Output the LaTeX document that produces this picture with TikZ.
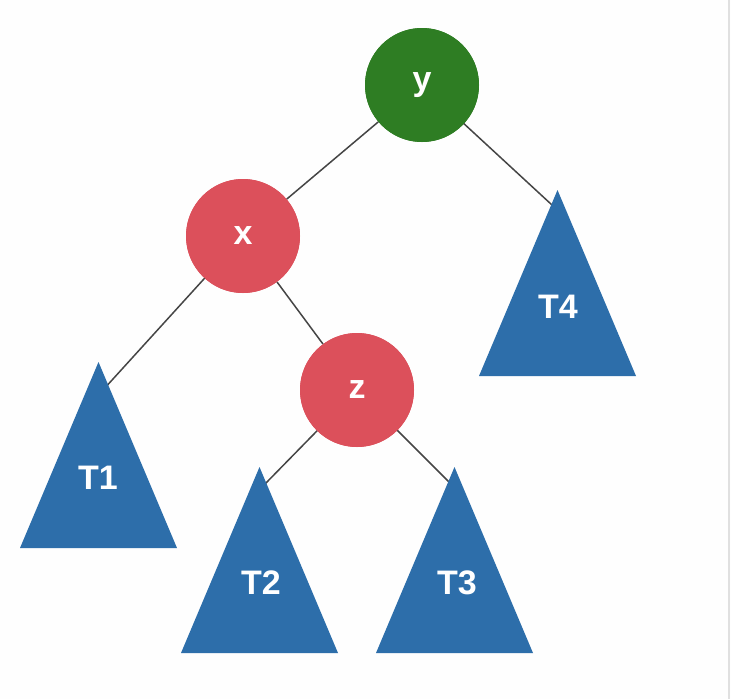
\documentclass[tikz,border=0pt]{standalone}
\usepackage{fontspec}
\setmainfont{Liberation Sans}
\usepackage{tikz}
\definecolor{NodeGreen}{HTML}{2E7D23}
\definecolor{NodeRed}{HTML}{DC505B}
\definecolor{TreeBlue}{HTML}{2D6EAA}
\definecolor{EdgeGray}{HTML}{454545}
\newcommand{\subtree}[3]{\fill[TreeBlue] (#2,#3) -- ++(-78.5,186) -- ++(157,0) -- cycle;}

\begin{document}
\begin{tikzpicture}[
    x=1pt, y=-1pt,
    key/.style={circle, minimum size=114pt, inner sep=0pt, text=white, font=\fontsize{34}{40}\selectfont\bfseries},
    root/.style={key, fill=NodeGreen},
    inner/.style={key, fill=NodeRed},
    treelabel/.style={text=white, inner sep=0pt, font=\fontsize{34}{40}\selectfont\bfseries},
    edge/.style={draw=EdgeGray, line width=1.5pt}
]
% frame of the screenshot
\fill[white!99.5!black] (0,0) rectangle (731,699);
\useasboundingbox (0,0) rectangle (731,699);
\draw[black!12, line width=2pt] (729,0) -- (729,699);

% where the connectors meet the subtrees
\coordinate (t1top) at (103,390);
\coordinate (t2top) at (265,484);
\coordinate (t3top) at (450,483);
\coordinate (t4top) at (552,205);

\node[root] (y) at (422,85) {y};
\node[inner] (x) at (243,236) {x};
\node[inner] (z) at (357,390) {z};

\draw[edge] (y) -- (x);
\draw[edge] (y.center) -- (t4top);
\draw[edge] (x) -- (z);
\draw[edge] (x.center) -- (t1top);
\draw[edge] (z.center) -- (t2top);
\draw[edge] (z.center) -- (t3top);

\subtree{T1}{98.5}{362}
\subtree{T2}{259.5}{467}
\subtree{T3}{454.5}{467}
\subtree{T4}{557.5}{190}

\node[treelabel] (T1) at (98,478) {T1};
\node[treelabel] (T2) at (261,583) {T2};
\node[treelabel] (T3) at (457,583) {T3};
\node[treelabel] (T4) at (558,307) {T4};

% circles drawn again over the edge ends
\node[root] at (y) {y};
\node[inner] at (x) {x};
\node[inner] at (z) {z};

\end{tikzpicture}
\end{document}
